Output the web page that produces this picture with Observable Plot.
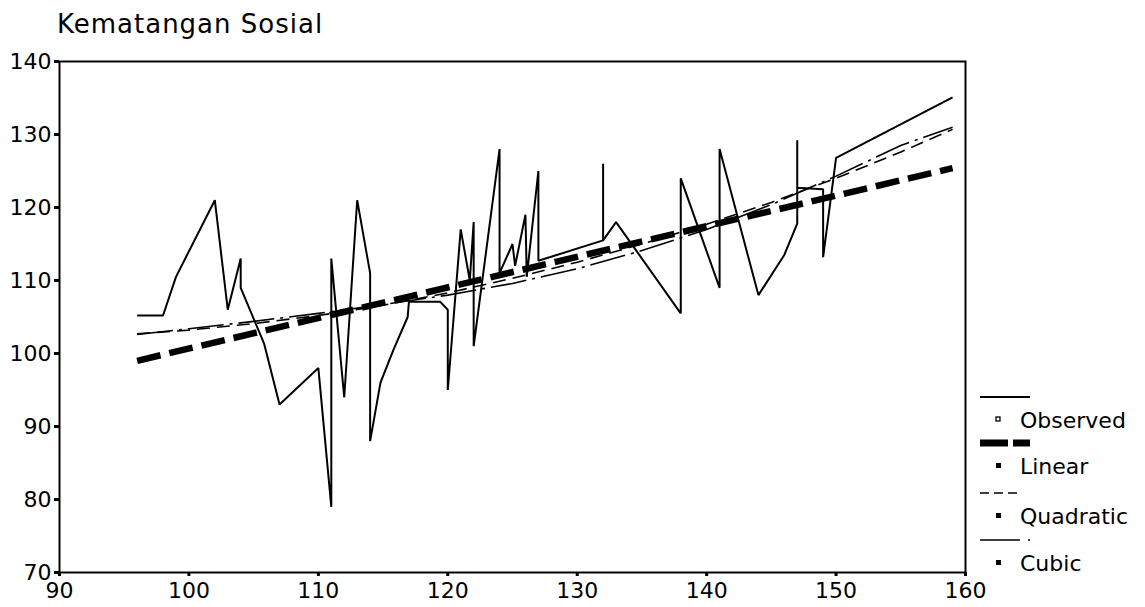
<!DOCTYPE html>
<html><head><meta charset="utf-8">
<script src="https://cdn.jsdelivr.net/npm/d3@7"></script>
<script src="https://cdn.jsdelivr.net/npm/@observablehq/plot@0.6"></script>
<style>
body{margin:0;background:#fff;}
#wrap{position:relative;width:1145px;height:607px;overflow:hidden;font-family:"DejaVu Sans",sans-serif;background:#fff;}
#title{position:absolute;left:57px;top:9px;font-size:26px;line-height:30px;letter-spacing:1px;color:#000;white-space:nowrap;}
#chart{position:absolute;top:45px;left:0;}
#legend{position:absolute;top:45px;left:975px;}
</style></head><body>
<div id="wrap"><div id="title">Kematangan Sosial</div><div id="chart"></div><div id="legend"></div></div>
<script>
// Observed series (Kematangan Sosial vs predictor)
const obsX = [96, 98, 99, 102, 103, 104, 104, 105.8, 107, 110, 111, 111, 112, 113, 114, 114, 114.8, 115.8, 116.9, 117, 119.4, 120, 120, 121, 121.7, 122, 122, 124, 124, 125, 125.2, 126, 126.1, 127, 127, 132, 132, 132, 133, 138, 138, 141, 141, 144, 146, 147, 147, 147, 149, 149, 150, 159];
const obsY = [105.2, 105.2, 110.5, 121, 106, 113, 109, 101.4, 93, 98, 79, 113, 94, 121, 111, 88, 96, 100.5, 105, 107.1, 107.1, 106, 95, 117, 110, 118, 101, 128, 111, 115, 112, 119, 110.5, 125, 112.7, 115.5, 126, 115.5, 118, 105.5, 124, 109, 128, 108, 113.5, 117.8, 129.2, 122.7, 122.5, 113.2, 126.8, 135.1];
// Linear fit
const linX = [96, 159];
const linY = [99.0, 125.4];
// Quadratic fit
const quadX = [96, 100, 105, 110, 115, 120, 125, 130, 135, 140, 145, 150, 155, 159];
const quadY = [102.7, 103.2, 104.1, 105.2, 106.6, 108.3, 110.3, 112.5, 115.0, 117.7, 120.7, 124.0, 127.6, 130.7];
// Cubic fit
const cubX = [96, 100, 105, 110, 115, 120, 125, 130, 135, 140, 145, 150, 155, 159];
const cubY = [102.6, 103.4, 104.4, 105.5, 106.7, 108.0, 109.6, 111.6, 114.1, 117.0, 120.4, 124.3, 128.5, 131.0];
// Axis ticks
const xTicks = [90, 100, 110, 120, 130, 140, 150, 160];
const yTicks = [70, 80, 90, 100, 110, 120, 130, 140];
// Legend
const legendLabels = ["Observed", "Linear", "Quadratic", "Cubic"];

const toRows = (xs, ys) => xs.map((x, i) => ({x, y: ys[i]}));
const observed = toRows(obsX, obsY);
const linear = toRows(linX, linY);
const quad = toRows(quadX, quadY);
const cubic = toRows(cubX, cubY);

const chart = Plot.plot({
  width: 1145, height: 562,
  marginLeft: 59, marginRight: 180, marginTop: 16, marginBottom: 35,
  x: {domain: [90, 160]},
  y: {domain: [70, 140]},
  style: {fontFamily: "DejaVu Sans", fontSize: "22px", color: "black", background: "white", overflow: "visible"},
  marks: [
    Plot.frame({stroke: "black", strokeWidth: 2}),
    Plot.line(observed, {x: "x", y: "y", stroke: "black", strokeWidth: 2, strokeLinejoin: "miter", strokeLinecap: "butt"}),
    Plot.line(linear, {x: "x", y: "y", stroke: "black", strokeWidth: 6.5, strokeDasharray: "24,9", strokeLinecap: "butt"}),
    Plot.line(quad, {x: "x", y: "y", stroke: "black", strokeWidth: 1.6, strokeDasharray: "13,7", strokeLinecap: "butt"}),
    Plot.line(cubic, {x: "x", y: "y", stroke: "black", strokeWidth: 1.6, strokeDasharray: "36,6,3,6", strokeLinecap: "butt"}),
    Plot.axisX({ticks: xTicks, tickSize: 4, tickPadding: 6, strokeWidth: 3, label: null, fontSize: 22}),
    Plot.axisY({ticks: yTicks, tickSize: 5, tickPadding: 3, strokeWidth: 3, label: null, fontSize: 22})
  ]
});
document.getElementById("chart").appendChild(chart);

// Legend
const lg = d3.select("#legend").append("svg").attr("width", 170).attr("height", 562);
const styles = [
  {w: 2, dash: null},
  {w: 7, dash: "28,5"},
  {w: 1.6, dash: "9,5"},
  {w: 1.6, dash: "40,8,2,8"}
];
const lineY0 = 352, rowStep = [0, 46, 96, 143];
legendLabels.forEach((lab, i) => {
  const ly = lineY0 + rowStep[i];
  lg.append("line").attr("x1", 5).attr("x2", i === 2 ? 47 : 55).attr("y1", ly).attr("y2", ly)
    .attr("stroke", "black").attr("stroke-width", styles[i].w)
    .attr("stroke-dasharray", styles[i].dash);
  const ty = ly + 23;
  if (i === 0) {
    lg.append("rect").attr("x", 21).attr("y", ty - 3).attr("width", 4).attr("height", 4)
      .attr("fill", "white").attr("stroke", "black").attr("stroke-width", 1.3);
  } else {
    lg.append("rect").attr("x", 21).attr("y", ty - 3).attr("width", 5).attr("height", 5).attr("fill", "black");
  }
  lg.append("text").attr("x", 45).attr("y", ty).attr("dy", "0.36em")
    .attr("font-family", "DejaVu Sans").attr("font-size", 22).attr("fill", "black").text(lab);
});
</script>
</body></html>
